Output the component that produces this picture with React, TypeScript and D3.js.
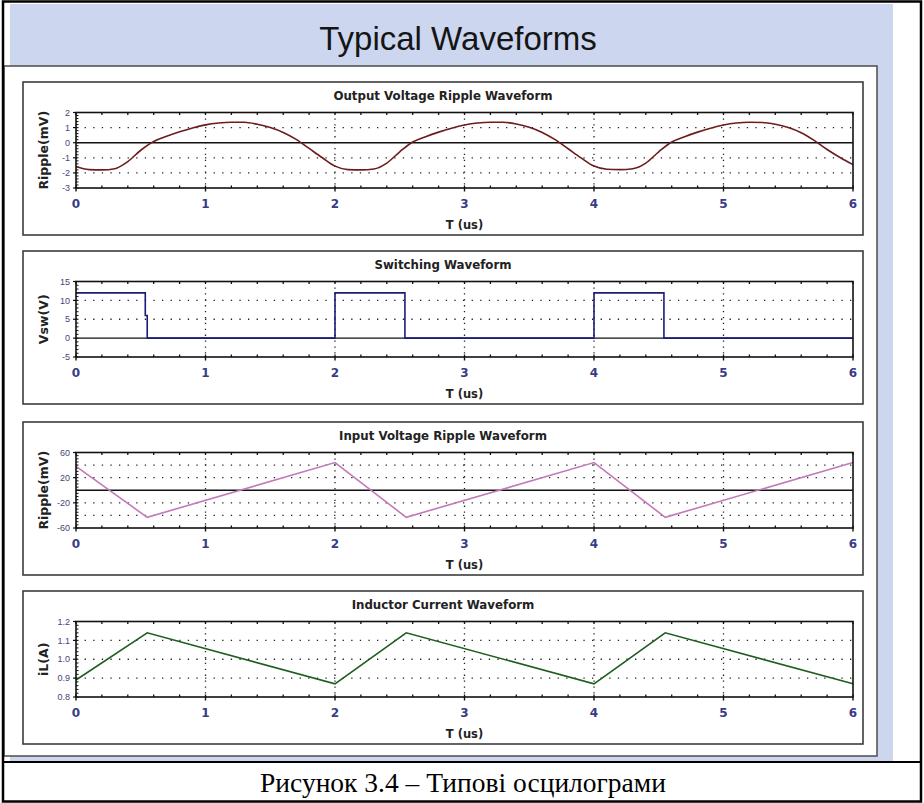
import * as d3 from 'd3'
import React from 'react'

const W = 924
const H = 803

// time axis (us) ticks shared by all panels
const xTicks = [0, 1, 2, 3, 4, 5, 6]

// output voltage ripple (mV), read every 0.1 us
const rippleOut: [number, number][] = [
  [0.0, -1.58], [0.1, -1.78], [0.2, -1.8], [0.3, -1.72], [0.4, -1.25], [0.5, -0.5],
  [0.6, 0.08], [0.7, 0.42], [0.8, 0.72], [0.9, 0.98], [1.0, 1.18], [1.1, 1.3],
  [1.2, 1.35], [1.3, 1.35], [1.4, 1.22], [1.5, 1.0], [1.6, 0.68], [1.7, 0.22],
  [1.8, -0.38], [1.9, -0.98], [2.0, -1.55], [2.1, -1.78], [2.2, -1.8], [2.3, -1.74],
  [2.4, -1.35], [2.5, -0.6], [2.6, 0.05], [2.7, 0.4], [2.8, 0.7], [2.9, 0.96],
  [3.0, 1.17], [3.1, 1.3], [3.2, 1.35], [3.3, 1.35], [3.4, 1.24], [3.5, 1.02],
  [3.6, 0.68], [3.7, 0.2], [3.8, -0.4], [3.9, -1.0], [4.0, -1.55], [4.1, -1.76],
  [4.2, -1.78], [4.3, -1.72], [4.4, -1.35], [4.5, -0.6], [4.6, 0.05], [4.7, 0.4],
  [4.8, 0.7], [4.9, 0.96], [5.0, 1.17], [5.1, 1.3], [5.2, 1.35], [5.3, 1.34],
  [5.4, 1.22], [5.5, 1.0], [5.6, 0.66], [5.7, 0.15], [5.8, -0.45], [5.9, -0.98],
  [6.0, -1.45],
]

// switch node voltage (V)
const switching: [number, number][] = [
  [0, 12], [0.535, 12], [0.535, 6], [0.55, 6], [0.55, 0], [2, 0], [2, 12],
  [2.54, 12], [2.54, 0], [4, 0], [4, 12], [4.54, 12], [4.54, 0], [6, 0],
]

// input voltage ripple (mV)
const rippleIn: [number, number][] = [
  [0, 38], [0.55, -43], [2, 44], [2.55, -43], [4, 44], [4.55, -43], [6, 44],
]

// inductor current (A)
const inductor: [number, number][] = [
  [0, 0.89], [0.55, 1.14], [2, 0.87], [2.55, 1.14], [4, 0.87], [4.55, 1.14], [6, 0.87],
]

const panels = [
  {
    title: 'Output Voltage Ripple Waveform', yLabel: 'Ripple(mV)', domain: [-3, 2],
    yTicks: [2, 1, 0, -1, -2, -3], grid: [1, -1, -2], zero: true, minor: 0.2, fmt: (d: number) => `${d}`,
    data: rippleOut, color: '#6b1d1d', curve: d3.curveMonotoneX, top: 82,
  },
  {
    title: 'Switching Waveform', yLabel: 'Vsw(V)', domain: [-5, 15],
    yTicks: [15, 10, 5, 0, -5], grid: [10, 5], zero: true, minor: 1, fmt: (d: number) => `${d}`,
    data: switching, color: '#1c1c78', curve: d3.curveLinear, top: 251,
  },
  {
    title: 'Input Voltage Ripple Waveform', yLabel: 'Ripple(mV)', domain: [-60, 60],
    yTicks: [60, 20, -20, -60], grid: [40, 20, -20, -40], zero: true, minor: 5, fmt: (d: number) => `${d}`,
    data: rippleIn, color: '#c27ab8', curve: d3.curveLinear, top: 422,
  },
  {
    title: 'Inductor Current Waveform', yLabel: 'iL(A)', domain: [0.8, 1.2],
    yTicks: [1.2, 1.1, 1.0, 0.9, 0.8], grid: [1.1, 1.0, 0.9], zero: false, minor: 0.02, fmt: (d: number) => d.toFixed(1),
    data: inductor, color: '#1f5e1f', curve: d3.curveLinear, top: 591,
  },
]

const BOX_L = 23
const BOX_R = 863
const PLOT_L = 76
const PLOT_R = 853
const UI_FONT = 'DejaVu Sans, Verdana, sans-serif'

const Panel = ({ p }: any) => {
  const x = d3.scaleLinear().domain([0, 6]).range([PLOT_L, PLOT_R])
  const y = d3.scaleLinear().domain(p.domain).range([p.top + 106, p.top + 30.5])
  const line = d3.line<[number, number]>().x(d => x(d[0])).y(d => y(d[1])).curve(p.curve)
  const xMinor = d3.range(0, 6.0001, 0.2)
  const yMinor = d3.range(p.domain[0], p.domain[1] + p.minor / 2, p.minor)
  const yb = y.range()[0]
  const yt = y.range()[1]
  return (
    <g>
      <rect x={BOX_L} y={p.top} width={BOX_R - BOX_L} height={153} fill="#fff" stroke="#3c3c3c" strokeWidth={1.6} />
      <text x={(BOX_L + BOX_R) / 2} y={p.top + 17.5} textAnchor="middle" fontFamily={UI_FONT} fontWeight="bold" fontSize={11.8} fill="#222">{p.title}</text>
      {p.grid.map((g: number) => (
        <line key={'g' + g} x1={PLOT_L} x2={PLOT_R} y1={y(g)} y2={y(g)} stroke="#222" strokeWidth={1.3} strokeDasharray="1.3 7.3" />
      ))}
      {xTicks.slice(1, -1).map(t => (
        <line key={'v' + t} x1={x(t)} x2={x(t)} y1={yt} y2={yb} stroke="#222" strokeWidth={1.3} strokeDasharray="1.3 4.6" />
      ))}
      {p.zero && <line x1={PLOT_L} x2={PLOT_R} y1={y(0)} y2={y(0)} stroke="#111" strokeWidth={1.4} />}
      {xMinor.map(t => (
        <g key={'m' + t}>
          <line x1={x(t)} x2={x(t)} y1={yb} y2={yb - 2.5} stroke="#111" strokeWidth={1.3} />
          <line x1={x(t)} x2={x(t)} y1={yt} y2={yt + 2.5} stroke="#111" strokeWidth={1.3} />
        </g>
      ))}
      {xTicks.map(t => (
        <line key={'M' + t} x1={x(t)} x2={x(t)} y1={yb} y2={yb + 3.5} stroke="#111" strokeWidth={1.4} />
      ))}
      {yMinor.map(v => (
        <line key={'ym' + v} x1={PLOT_L} x2={PLOT_L + 2.5} y1={y(v)} y2={y(v)} stroke="#111" strokeWidth={1} />
      ))}
      {p.yTicks.map((v: number) => (
        <g key={'yt' + v}>
          <line x1={PLOT_L - 3} x2={PLOT_L} y1={y(v)} y2={y(v)} stroke="#111" strokeWidth={1.2} />
          <text x={70} y={y(v)} dy="0.35em" textAnchor="end" fontFamily="Liberation Sans, Arial" fontSize={9} fill="#45457a">{p.fmt(v)}</text>
        </g>
      ))}
      <path d={line(p.data) || ''} fill="none" stroke={p.color} strokeWidth={1.6} />
      <rect x={PLOT_L} y={yt} width={PLOT_R - PLOT_L} height={yb - yt} fill="none" stroke="#111" strokeWidth={1.6} />
      {xTicks.map(t => (
        <text key={'xl' + t} x={x(t)} y={yb + 20} textAnchor="middle" fontFamily={UI_FONT} fontWeight="bold" fontSize={12} fill="#3a3a85">{t}</text>
      ))}
      <text x={(PLOT_L + PLOT_R) / 2} y={yb + 41} textAnchor="middle" fontFamily={UI_FONT} fontWeight="bold" fontSize={11.5} fill="#222">T (us)</text>
      <text transform={`translate(44,${(yt + yb) / 2}) rotate(-90)`} textAnchor="middle" dy="0.35em" fontFamily={UI_FONT} fontWeight="bold" fontSize={12.5} fill="#222">{p.yLabel}</text>
    </g>
  )
}

const App = () => {
  return (
    <svg width={W} height={H} style={{ position: 'absolute', left: 0, top: 0, background: '#fff' }}>
      <rect x={10} y={4} width={883} height={758} fill="#ccd7ef" />
      <rect x={4} y={66} width={873} height={690} fill="#fff" stroke="#555" strokeWidth={1.6} />
      <text x={458} y={50} textAnchor="middle" fontFamily="Liberation Sans, Arial" fontSize={33} fill="#151515">Typical Waveforms</text>
      {panels.map(p => <Panel key={p.title} p={p} />)}
      <line x1={3} x2={922} y1={762} y2={762} stroke="#000" strokeWidth={2} />
      <rect x={3} y={1.5} width={918} height={800} fill="none" stroke="#000" strokeWidth={2.5} />
      <text x={463} y={792} textAnchor="middle" fontFamily="Liberation Serif, Times New Roman" fontSize={27.5} fill="#000">Рисунок 3.4 – Типові осцилограми</text>
    </svg>
  )
}

export default App
